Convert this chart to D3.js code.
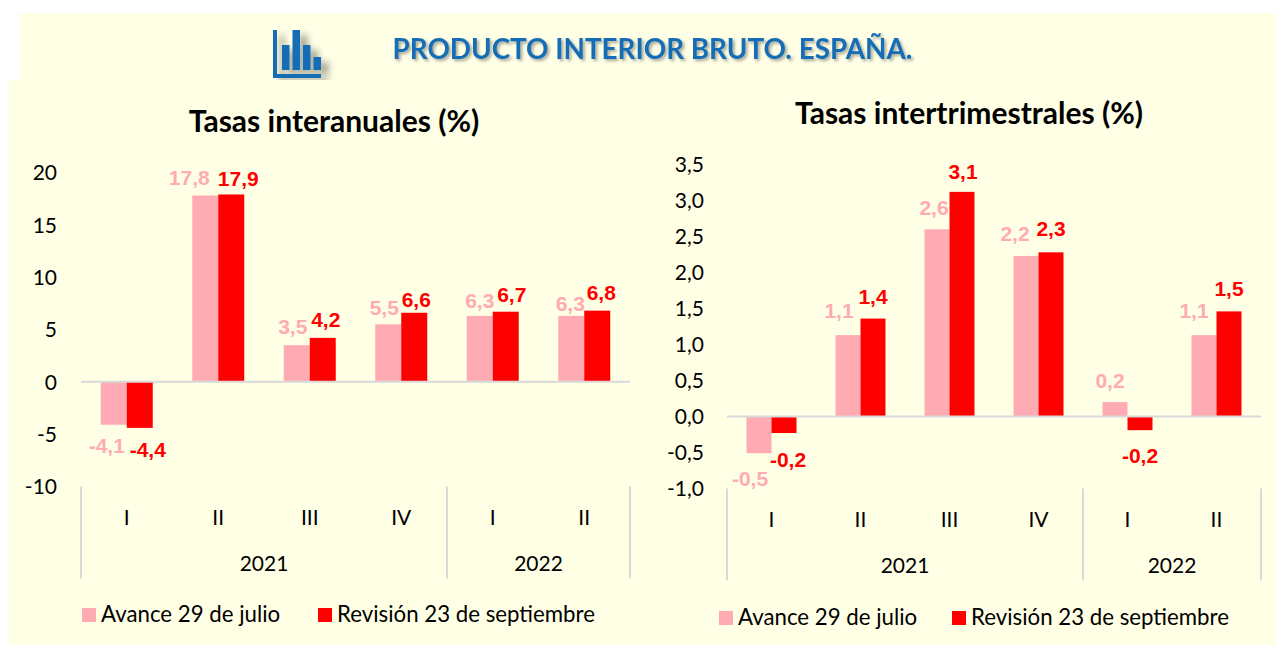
<!DOCTYPE html>
<html><head><meta charset="utf-8">
<script src="https://cdn.jsdelivr.net/npm/d3@7/dist/d3.min.js"></script>
<style>html,body{margin:0;padding:0;background:#fff}svg{display:block}</style>
</head><body><div id="c"></div>
<script>
const quarters = ["I","II","III","IV","I","II"];
const years = [{label:"2021",n:4},{label:"2022",n:2}];
const seriesNames = ["Avance 29 de julio","Revisión 23 de septiembre"];
const annualAvance = [-4.1,17.8,3.5,5.5,6.3,6.3];
const annualRevision = [-4.4,17.9,4.2,6.6,6.7,6.8];
const quarterlyAvance = [-0.51,1.13,2.6,2.23,0.2,1.13];
const quarterlyRevision = [-0.23,1.36,3.12,2.28,-0.19,1.46];
const annualTicks = [-10,-5,0,5,10,15,20];
const quarterlyTicks = [-1,-0.5,0,0.5,1,1.5,2,2.5,3,3.5];
const iconBars = [25,40,25,13];

const PINK="#ffabb3", RED="#ff0000", GRID="#d9d9d9", CREAM="#ffffe6";
const W=1276,H=645;
const svg=d3.select("#c").append("svg").attr("width",W).attr("height",H);
const FONT="Lato, 'Noto Sans', sans-serif", BOLD="'Liberation Sans', Arial, sans-serif";
const comma=d3.formatLocale({decimal:",",thousands:".",grouping:[3],currency:["","€"],minus:"-"});
const f1=comma.format(".1f"), f0=comma.format("d");

const defs=svg.append("defs");
const sh=defs.append("filter").attr("id","ts").attr("x","-5%").attr("y","-20%").attr("width","110%").attr("height","150%");
sh.append("feDropShadow").attr("dx",2).attr("dy",2).attr("stdDeviation",1.5).attr("flood-color","#000").attr("flood-opacity",.35);
const sh2=defs.append("filter").attr("id","is").attr("x","-20%").attr("y","-20%").attr("width","160%").attr("height","160%");
sh2.append("feDropShadow").attr("dx",7).attr("dy",5).attr("stdDeviation",3.5).attr("flood-color","#000").attr("flood-opacity",.4);

svg.append("rect").attr("x",19).attr("y",13).attr("width",W-19).attr("height",68).attr("fill",CREAM);

// title
svg.append("text").attr("x",652.5).attr("y",58.5).attr("text-anchor","middle").attr("font-family",FONT).attr("font-weight",700)
  .attr("font-size",27.8).attr("fill","#156db5").attr("filter","url(#ts)").text("PRODUCTO INTERIOR BRUTO. ESPAÑA.");

// icon
const ic=svg.append("g").attr("filter","url(#is)").attr("fill","#156db5");
const icX=d3.scaleBand().domain(d3.range(iconBars.length)).range([282,321]).paddingInner(0.28);
const icY=d3.scaleLinear().domain([0,40]).range([70,30]);
ic.selectAll("rect.b").data(iconBars).join("rect").attr("class","b").attr("x",(d,i)=>icX(i)).attr("width",icX.bandwidth()).attr("y",d=>icY(d)).attr("height",d=>70-icY(d));
ic.append("rect").attr("x",273).attr("y",30).attr("width",4).attr("height",48);
ic.append("rect").attr("x",273).attr("y",74).attr("width",48).attr("height",4);

svg.append("rect").attr("x",9).attr("y",80).attr("width",W-9).attr("height",H-80).attr("fill",CREAM);

function chart(o){
  const g=svg.append("g");
  const x=d3.scaleBand().domain(d3.range(quarters.length)).range([o.x0,o.x1]);
  const y=d3.scaleLinear().domain(o.domain).range([o.yBottom,o.yTop]);
  const barW=o.barW;
  g.append("text").attr("x",o.titleX).attr("y",o.titleY).attr("text-anchor","middle").attr("font-family",FONT).attr("font-weight",700).attr("font-size",30).attr("fill","#000").text(o.title);
  const ay=g.append("g").attr("transform",`translate(${o.x0},0.7)`).call(d3.axisLeft(y).tickValues(o.ticks).tickSize(0).tickPadding(o.tickPad).tickFormat(o.fmt));
  ay.select(".domain").remove();
  ay.selectAll("text").attr("font-family",FONT).attr("font-size",21).attr("fill","#000");
  [o.a,o.b].forEach((vals,s)=>{
    g.selectAll(null).data(vals).join("rect")
     .attr("x",(d,i)=>x(i)+x.bandwidth()/2+(s?0:-barW)).attr("width",barW)
     .attr("y",d=>Math.min(y(d),y(0))).attr("height",d=>Math.abs(y(d)-y(0)))
     .attr("fill",s?RED:PINK);
  });
  g.append("line").attr("x1",o.x0).attr("x2",o.x1).attr("y1",y(0)).attr("y2",y(0)).attr("stroke",GRID).attr("stroke-width",2);
  let acc=0; const bounds=[0];
  years.forEach(v=>{acc+=v.n;bounds.push(acc)});
  bounds.forEach(b=>{
    const px=b<quarters.length?x(b):o.x1;
    g.append("line").attr("x1",px).attr("x2",px).attr("y1",o.yBottom).attr("y2",o.yBottom+92).attr("stroke",GRID).attr("stroke-width",2);
  });
  quarters.forEach((q,i)=>{
    g.append("text").attr("x",x(i)+x.bandwidth()/2).attr("y",o.yBottom+38).attr("text-anchor","middle").attr("font-family",FONT).attr("font-size",21).attr("fill","#000").text(q);
  });
  acc=0;
  years.forEach(v=>{
    const a=x(acc), b=acc+v.n<quarters.length?x(acc+v.n):o.x1;
    g.append("text").attr("x",(a+b)/2).attr("y",o.yBottom+84).attr("text-anchor","middle").attr("font-family",FONT).attr("font-size",21).attr("fill","#000").text(v.label);
    acc+=v.n;
  });
  [o.a,o.b].forEach((vals,s)=>{
    g.selectAll(null).data(vals).join("text")
     .attr("x",(d,i)=>x(i)+x.bandwidth()/2+(s?barW/2:-barW/2)+o.nudge[s][i][0])
     .attr("y",(d,i)=>(d<0?y(d)+24:y(d)-9)+o.nudge[s][i][1])
     .attr("text-anchor","middle").attr("font-family",BOLD).attr("font-weight",700).attr("font-size",21)
     .attr("fill",s?RED:PINK).text(d=>f1(d));
  });
  const lg=g.append("g");
  o.legend.forEach((l,i)=>{
    lg.append("rect").attr("x",l).attr("y",o.legY-7).attr("width",14).attr("height",14).attr("fill",i?RED:PINK);
    lg.append("text").attr("x",l+19).attr("y",o.legY+7).attr("font-family",FONT).attr("font-size",22.25).attr("fill","#000").text(seriesNames[i]);
  });
}
chart({title:"Tasas interanuales (%)",titleX:334,titleY:132,x0:81,x1:630,yTop:172.5,yBottom:486.5,domain:[-10,20],ticks:annualTicks,fmt:f0,tickPad:24,barW:26,
  a:annualAvance,b:annualRevision,legend:[82,318],legY:615,
  nudge:[[[-7,4],[-16,-2],[-4,-2],[-4,0],[0,1],[-1,4]],[[8,5],[7,1],[3,-2],[2,3],[6,-1],[4,-2]]]});
chart({title:"Tasas intertrimestrales (%)",titleX:969,titleY:124,x0:727,x1:1261,yTop:164.5,yBottom:488.5,domain:[-1,3.5],ticks:quarterlyTicks,fmt:f1,tickPad:23,barW:25,
  a:quarterlyAvance,b:quarterlyRevision,legend:[719,952],legY:618,
  nudge:[[[-9,9],[-9,-8],[-3,-5],[-11,-6],[-5,-5],[-10,-8]],[[4,10],[0,-6],[1,-4],[0,-7],[0,9],[0,-6]]]});
</script></body></html>
